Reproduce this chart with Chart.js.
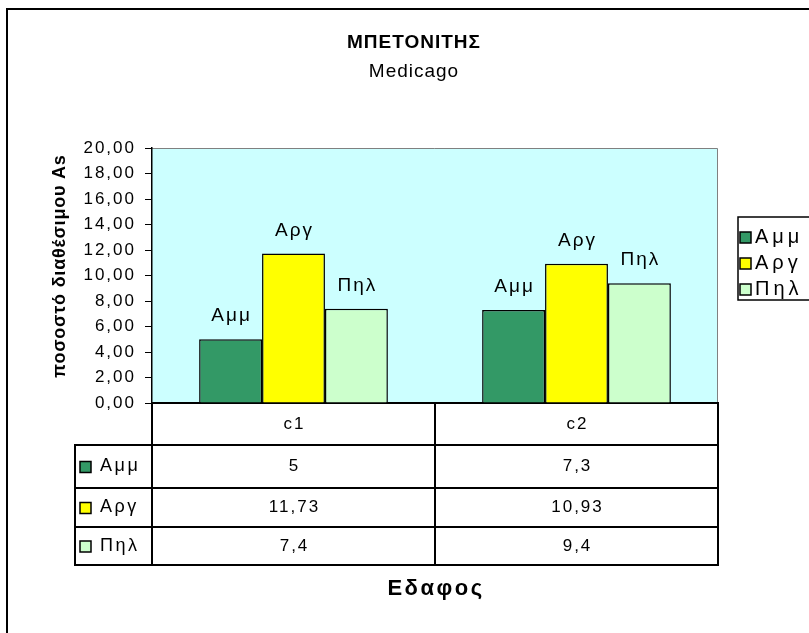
<!DOCTYPE html>
<html>
<head>
<meta charset="utf-8">
<script src="https://cdn.jsdelivr.net/npm/chart.js@4.4.0/dist/chart.umd.min.js"></script>
<style>
html, body { margin: 0; padding: 0; background: #fff; overflow: hidden; }
</style>
</head>
<body>
<canvas id="chart" width="826" height="640"></canvas>
<script>
// data
const categories = ['c1', 'c2'];
const seriesNames = ['Αμμ', 'Αργ', 'Πηλ'];
const ammValues = [5, 7.3];
const argValues = [11.73, 10.93];
const pilValues = [7.4, 9.4];
const yMin = 0, yMax = 20, yStep = 2;
const seriesColors = ['#339966', '#FFFF00', '#CCFFCC'];

const chartTitle = 'ΜΠΕΤΟΝΙΤΗΣ';
const chartSubtitle = 'Medicago';
const yTitle = 'ποσοστό διαθέσιμου As';
const xTitle = 'Εδαφος';

const FONT = '"Liberation Sans", Arial, sans-serif';
const comma = v => String(v).replace('.', ',');

// table row edges (first one is the x axis line)
const tableRows = [403, 445, 488, 527, 565];
const tableLeft = 75;

const excelLook = {
  id: 'excelLook',
  beforeDraw(chart) {
    const { ctx, chartArea: a } = chart;
    ctx.save();
    ctx.fillStyle = '#fff';
    ctx.fillRect(0, 0, chart.width, chart.height);
    // outer chart frame
    ctx.strokeStyle = '#000';
    ctx.lineWidth = 2;
    ctx.strokeRect(7, 9, 812, 640);
    // plot area
    ctx.fillStyle = '#CCFFFF';
    ctx.fillRect(a.left, a.top, a.right - a.left, a.bottom - a.top);
    ctx.strokeStyle = '#808080';
    ctx.lineWidth = 1;
    ctx.beginPath();
    ctx.moveTo(a.left, a.top + 0.5);
    ctx.lineTo(a.right - 0.5, a.top + 0.5);
    ctx.lineTo(a.right - 0.5, a.bottom);
    ctx.stroke();
    // titles
    ctx.fillStyle = '#000';
    ctx.textAlign = 'center';
    ctx.textBaseline = 'middle';
    ctx.letterSpacing = '1px';
    ctx.font = 'bold 19px ' + FONT;
    ctx.fillText(chartTitle, 414, 43);
    ctx.font = '19px ' + FONT;
    ctx.fillText(chartSubtitle, 414, 72);
    // y axis title
    ctx.translate(60, 266);
    ctx.rotate(-Math.PI / 2);
    ctx.letterSpacing = '0.8px';
    ctx.font = 'bold 18px ' + FONT;
    ctx.fillText(yTitle, 0, 0);
    ctx.restore();
    // Excel spreads the tick digits out
    ctx.letterSpacing = '2px';
  },
  afterDatasetsDraw(chart) {
    // series name above every bar
    const ctx = chart.ctx;
    ctx.save();
    ctx.fillStyle = '#000';
    ctx.font = '19px ' + FONT;
    ctx.textAlign = 'center';
    ctx.textBaseline = 'middle';
    ctx.letterSpacing = '2px';
    chart.data.datasets.forEach((ds, i) => {
      chart.getDatasetMeta(i).data.forEach(bar => {
        ctx.fillText(ds.label, bar.x + 1, bar.y - 23);
      });
    });
    ctx.restore();
  },
  afterDraw(chart) {
    const { ctx, chartArea: a } = chart;
    const x = chart.scales.x;
    const mid = (x.getPixelForValue(0) + x.getPixelForValue(1)) / 2;
    const cols = [a.left, mid, a.right];
    ctx.save();
    ctx.strokeStyle = '#000';
    ctx.lineWidth = 2;
    ctx.beginPath();
    // horizontal lines
    tableRows.forEach((y, i) => {
      if (i === 0) return;
      ctx.moveTo(tableLeft, y);
      ctx.lineTo(a.right, y);
    });
    // vertical lines
    cols.forEach(cx => {
      ctx.moveTo(cx, tableRows[0]);
      ctx.lineTo(cx, tableRows[4] + 1);
    });
    ctx.moveTo(tableLeft, tableRows[1] - 1);
    ctx.lineTo(tableLeft, tableRows[4] + 1);
    ctx.stroke();

    ctx.fillStyle = '#000';
    ctx.font = '17px ' + FONT;
    ctx.textBaseline = 'middle';
    ctx.textAlign = 'center';
    ctx.letterSpacing = '2px';
    categories.forEach((c, j) => {
      const cx = x.getPixelForValue(j) + 1;
      ctx.fillText(c, cx, (tableRows[0] + tableRows[1]) / 2);
      chart.data.datasets.forEach((ds, i) => {
        ctx.fillText(comma(ds.data[j]), cx, (tableRows[i + 1] + tableRows[i + 2]) / 2);
      });
    });

    // legend keys in the table and the legend box
    const key = (kx, ky, color, label, size, spacing, gap) => {
      ctx.fillStyle = color;
      ctx.fillRect(kx, ky - 5, 11, 11);
      ctx.lineWidth = 1.5;
      ctx.strokeStyle = '#000';
      ctx.strokeRect(kx, ky - 5, 11, 11);
      ctx.fillStyle = '#000';
      ctx.textAlign = 'left';
      ctx.font = size + 'px ' + FONT;
      ctx.letterSpacing = spacing + 'px';
      ctx.fillText(label, kx + gap, ky);
    };
    chart.data.datasets.forEach((ds, i) => {
      key(tableLeft + 5, (tableRows[i + 1] + tableRows[i + 2]) / 2, ds.backgroundColor, ds.label, 18, 2.5, 20);
    });
    ctx.lineWidth = 1.5;
    ctx.strokeStyle = '#000';
    ctx.strokeRect(738, 217, 100, 83);
    const legendRows = [237, 263, 289];
    chart.data.datasets.forEach((ds, i) => {
      key(740, legendRows[i], ds.backgroundColor, ds.label, 20, 4, 15);
    });

    // x axis title under the table
    ctx.font = 'bold 22px ' + FONT;
    ctx.letterSpacing = '2.5px';
    ctx.textAlign = 'center';
    ctx.fillText(xTitle, (a.left + a.right) / 2 + 1, 589);
    ctx.restore();
  }
};

const ctx = document.getElementById('chart').getContext('2d');
const chart = new Chart(ctx, {
  type: 'bar',
  data: {
    labels: categories,
    datasets: [
      { label: seriesNames[0], data: ammValues, backgroundColor: seriesColors[0] },
      { label: seriesNames[1], data: argValues, backgroundColor: seriesColors[1] },
      { label: seriesNames[2], data: pilValues, backgroundColor: seriesColors[2] }
    ].map(ds => Object.assign(ds, {
      borderColor: '#000',
      borderWidth: 1.5,
      barPercentage: 1,
      categoryPercentage: 0.667
    }))
  },
  options: {
    responsive: false,
    animation: false,
    devicePixelRatio: 1,
    layout: { padding: { left: 45, top: 148, right: 108, bottom: 237 } },
    plugins: {
      legend: { display: false },
      title: { display: false },
      tooltip: { enabled: false }
    },
    scales: {
      x: {
        ticks: { display: false },
        grid: { display: false },
        border: { display: true, color: '#000', width: 2 },
        afterFit(scale) { scale.height = 0; }
      },
      y: {
        min: yMin,
        max: yMax,
        ticks: {
          stepSize: yStep,
          autoSkip: false,
          color: '#000',
          padding: 9,
          font: { family: FONT, size: 17 },
          callback: v => v.toFixed(2).replace('.', ',')
        },
        grid: { drawOnChartArea: false, drawTicks: true, tickLength: 7, color: '#000' },
        border: { display: true, color: '#000', width: 1.5 },
        afterFit(scale) { scale.width = 107; }
      }
    }
  },
  plugins: [excelLook]
});
</script>
</body>
</html>
